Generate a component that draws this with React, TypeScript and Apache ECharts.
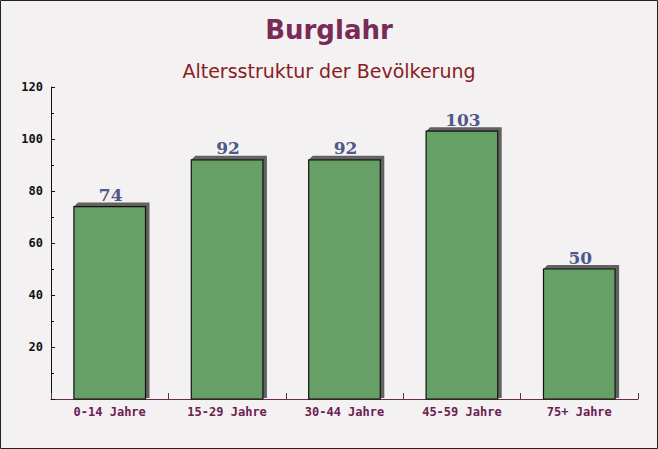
import React, { useEffect, useRef } from "react";
import * as echarts from "echarts";

const categories = ["0-14 Jahre", "15-29 Jahre", "30-44 Jahre", "45-59 Jahre", "75+ Jahre"];
const values = [74, 92, 92, 103, 50];
const yTicks = [0, 20, 40, 60, 80, 100, 120];

export default function App() {
  const ref = useRef<HTMLDivElement>(null);
  useEffect(() => {
    document.body.style.margin = "0";
    const chart = echarts.init(ref.current!, null, { renderer: "svg" });
    const option: any = {
      animation: false,
      backgroundColor: "#f4f1f2",
      title: [
        {
          text: "Burglahr",
          left: "center",
          top: 12,
          textStyle: { fontFamily: "DejaVu Sans", fontWeight: "bold", fontSize: 26, color: "#7a2a56" },
        },
        {
          text: "Altersstruktur der Bevölkerung",
          left: "center",
          top: 56,
          textStyle: { fontFamily: "DejaVu Sans", fontWeight: "normal", fontSize: 19, color: "#8a1c24" },
        },
      ],
      graphic: [
        {
          type: "rect",
          shape: { x: 0.5, y: 0.5, width: 657, height: 448 },
          style: { fill: "none", stroke: "#222", lineWidth: 1 },
          z: 100,
        },
      ],
      grid: { left: 51, right: 20, top: 87, bottom: 50 },
      xAxis: {
        type: "category",
        data: categories,
        boundaryGap: true,
        axisLine: { lineStyle: { color: "#6a2a4a", width: 1 } },
        axisTick: { show: true, inside: true, length: 6, alignWithLabel: false, interval: 0, lineStyle: { color: "#6a2a4a", width: 1 } },
        axisLabel: {
          fontFamily: "DejaVu Sans Mono",
          fontWeight: "bold",
          fontSize: 12,
          color: "#6a2050",
          margin: 7,
        },
      },
      yAxis: {
        type: "value",
        min: yTicks[0],
        max: yTicks[yTicks.length - 1],
        interval: 20,
        axisLine: { show: true, lineStyle: { color: "#111", width: 1 } },
        axisTick: { show: true, inside: true, length: 4, lineStyle: { color: "#111" } },
        minorTick: { show: true, splitNumber: 2, length: 3, lineStyle: { color: "#111" } },
        splitLine: { show: false },
        axisLabel: {
          fontFamily: "DejaVu Sans Mono",
          fontWeight: "bold",
          fontSize: 12,
          color: "#111",
          margin: 8,
          formatter: (v: number) => (v === 0 ? "" : String(v)),
        },
      },
      series: [
        {
          type: "custom",
          data: values.map((v, i) => [i, v]),
          encode: { x: 0, y: 1 },
          z: 1,
          renderItem: (params: any, api: any) => {
            const idx = api.value(0);
            const val = api.value(1);
            const top = api.coord([idx, val]);
            const base = api.coord([idx, 0]);
            const bw = api.size([1, 0])[0] * 0.61;
            const x0 = top[0] - bw / 2;
            const x1 = top[0] + bw / 2;
            const yT = top[1];
            const yB = base[1];
            const d = 4;
            return {
              type: "group",
              children: [
                {
                  type: "polygon",
                  shape: {
                    points: [
                      [x0, yT],
                      [x0 + d, yT - d],
                      [x1 + d, yT - d],
                      [x1 + d, yB - 1],
                      [x1, yB - 1],
                      [x1, yT],
                    ],
                  },
                  style: { fill: "#626262" },
                },
                {
                  type: "rect",
                  shape: { x: x0, y: yT, width: bw, height: yB - yT },
                  style: { fill: "#66a066", stroke: "#111", lineWidth: 1.2 },
                },
                {
                  type: "text",
                  x: top[0] + 1,
                  y: yT - 3,
                  style: {
                    text: String(val),
                    align: "center",
                    verticalAlign: "bottom",
                    fontFamily: "DejaVu Serif",
                    fontWeight: "bold",
                    fontSize: 17,
                    fill: "#4f5888",
                  },
                },
              ],
            };
          },
        },
      ],
    };
    chart.setOption(option);
    return () => chart.dispose();
  }, []);
  return <div ref={ref} style={{ width: 658, height: 449 }} />;
}
